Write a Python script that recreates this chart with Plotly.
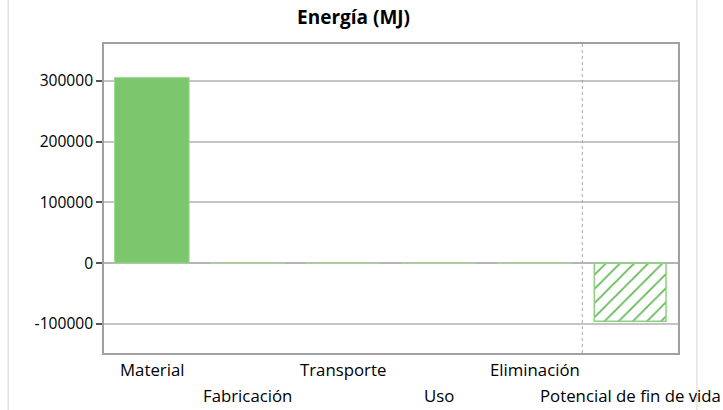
import plotly.graph_objects as go

# Energy per life-cycle stage (MJ)
categories = ["Material", "Fabricación", "Transporte", "Uso", "Eliminación", "Potencial de fin de vida"]
energy_mj = [306000, 0, 0, 0, 0, -95500]
title_text = "Energía (MJ)"
y_ticks = [-100000, 0, 100000, 200000, 300000]

GREEN = "#7cc66d"
FONT = "Open Sans"

stage_idx = list(range(len(categories) - 1))
fig = go.Figure()

# life-cycle stages: solid bars
fig.add_trace(go.Bar(
    x=stage_idx, y=energy_mj[:-1], width=0.78,
    marker=dict(color=GREEN, line=dict(color="#a3d898", width=1)),
    showlegend=False, hoverinfo="skip",
))

# end-of-life potential: hatched bar
fig.add_trace(go.Bar(
    x=[len(categories) - 1], y=[energy_mj[-1]], width=0.75,
    marker=dict(
        color="white",
        line=dict(color="#8fd082", width=1.5),
        pattern=dict(shape="/", fgcolor="#5fb94f", fgopacity=1, bgcolor="white",
                     size=10, solidity=0.17),
    ),
    showlegend=False, hoverinfo="skip",
))

# category labels on two alternating rows
for i, name in enumerate(categories):
    fig.add_annotation(
        x=i, y=0, xref="x", yref="paper", text=name, showarrow=False,
        yanchor="top", yshift=-3 if i % 2 == 0 else -29,
        font=dict(family=FONT, size=16.8, color="black"),
    )

# dotted separator before the end-of-life column
fig.add_shape(type="line", xref="x", yref="paper", x0=4.5, x1=4.5, y0=0, y1=1,
              line=dict(color="#a8a8a8", width=1, dash="dot"))

# thin side rules framing the panel
for xp in (-0.167, 1.033):
    fig.add_shape(type="line", xref="paper", yref="paper", x0=xp, x1=xp, y0=-0.3, y1=1.3,
                  line=dict(color="#d4d4d4", width=1))

fig.update_layout(
    width=723, height=410,
    margin=dict(l=104, r=45, t=44, b=57),
    paper_bgcolor="white", plot_bgcolor="white",
    font=dict(family=FONT, size=16, color="black"),
    title=dict(text="<b>" + title_text + "</b>", x=0.489, xanchor="center", y=0.975, yanchor="top",
               font=dict(family=FONT, size=19, color="black")),
    bargap=0.2,
)
fig.update_xaxes(
    range=[-0.5, len(categories) - 0.5], showticklabels=False, showgrid=False,
    zeroline=False, showline=True, mirror=True, linecolor="#a0a0a0", linewidth=1.5,
)
fig.update_yaxes(
    range=[-148000, 361000], tickvals=y_ticks, ticktext=[str(v) for v in y_ticks],
    showgrid=True, gridcolor="#c4c4c4", gridwidth=1.5,
    zeroline=True, zerolinecolor="#b4b4b4", zerolinewidth=1.5,
    showline=True, mirror=True, linecolor="#a0a0a0", linewidth=1.5,
    ticks="outside", ticklen=6, tickcolor="#555555", tickwidth=1.5,
    tickfont=dict(family=FONT, size=15.6, color="black"),
)

fig.write_html("out.html")
